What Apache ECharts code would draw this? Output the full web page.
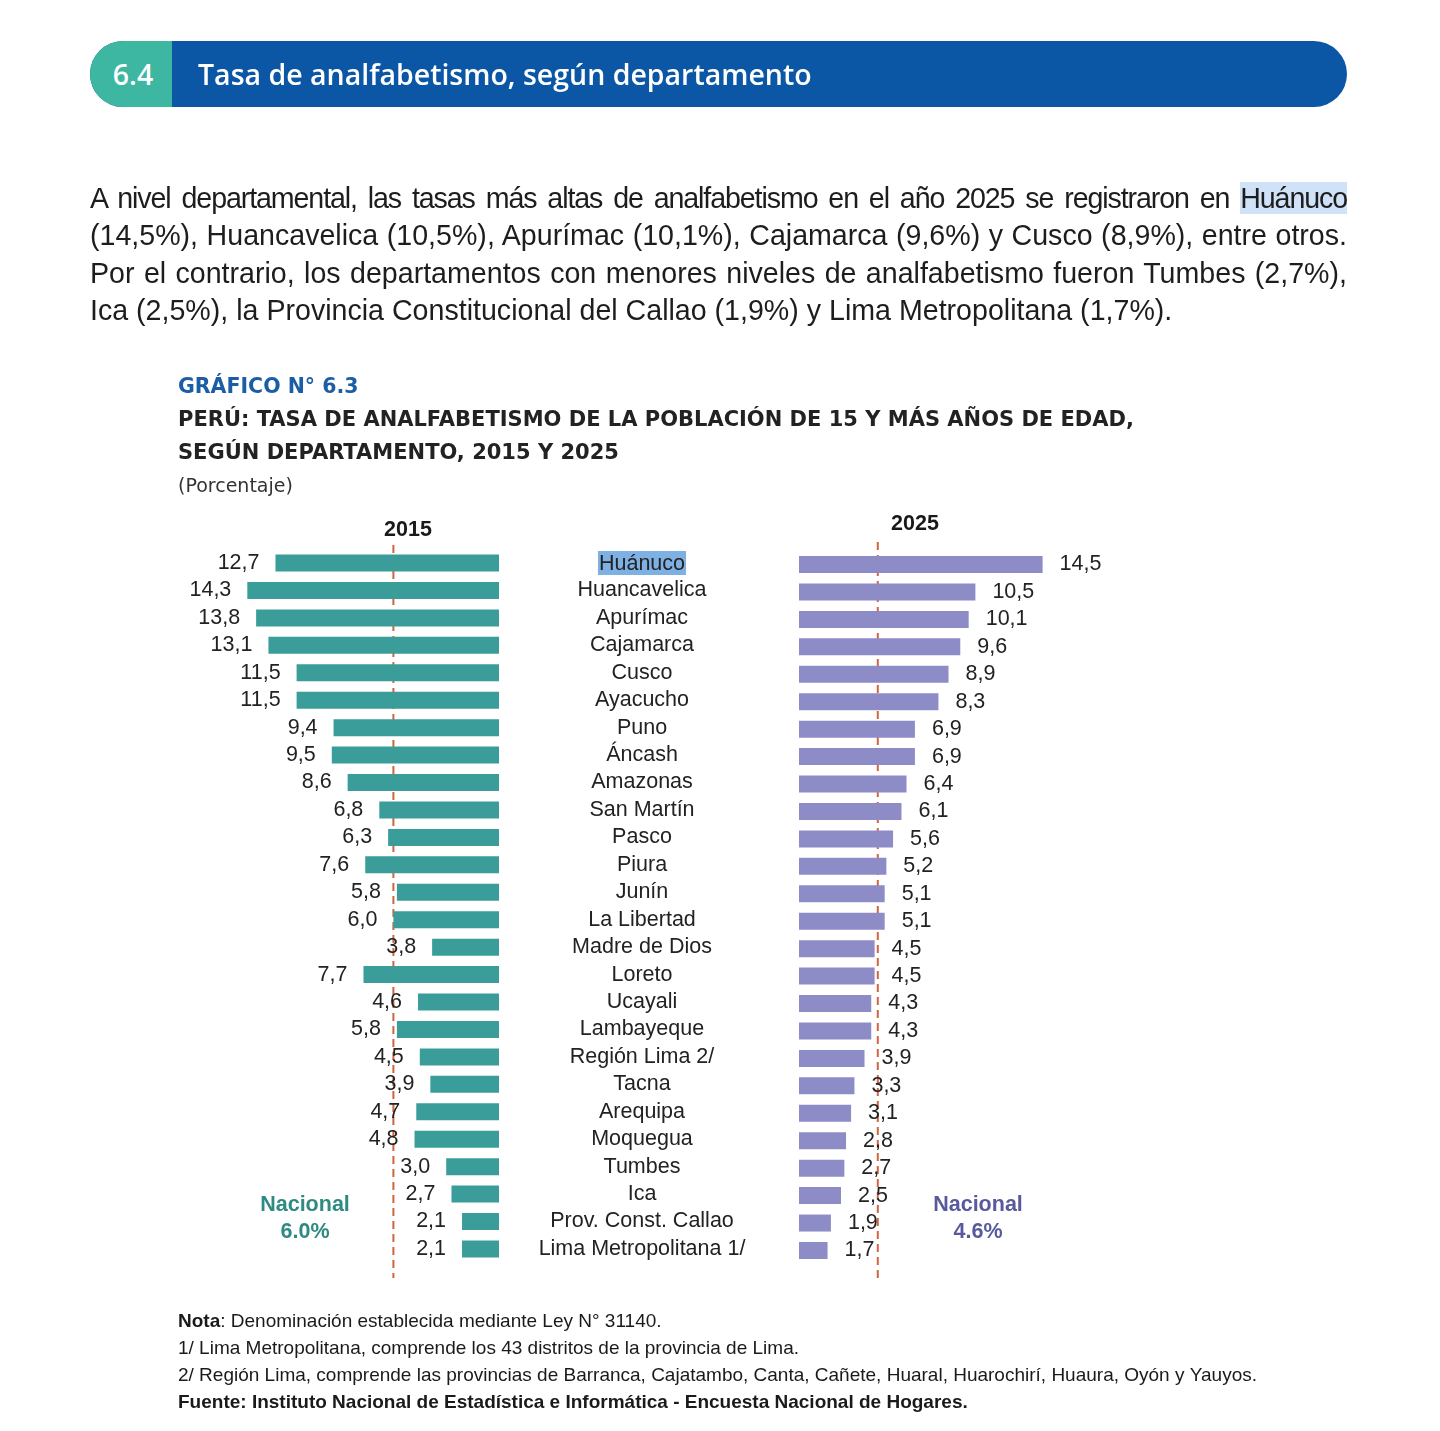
<!DOCTYPE html>
<html>
<head>
<meta charset="utf-8">
<title>Tasa de analfabetismo, según departamento</title>
<script src="https://cdn.jsdelivr.net/npm/echarts@6.0.0/dist/echarts.min.js"></script>
<style>
  html, body { margin: 0; padding: 0; background: #fff; }
  #chart { position: absolute; left: 0; top: 0; width: 1440px; height: 1431px; }
  .banner { position: absolute; left: 90px; top: 41px; width: 1257px; height: 66px;
    border-radius: 33px; background: #0B57A5; overflow: hidden;
    font-family: "Open Sans", sans-serif; font-weight: 600; color: #fff; }
  .banner .num { position: absolute; left: 0; top: 0; width: 82px; height: 66px; background: #3DB6A2;
    line-height: 66px; text-align: center; font-size: 28.5px; padding-left: 4px; box-sizing: border-box; }
  .banner .ttl { position: absolute; left: 108px; top: 0; line-height: 66px; font-size: 28.5px; }
  .par { position: absolute; left: 90px; top: 180px; width: 1257px;
    font-family: "Liberation Sans", Arial, sans-serif; font-size: 28.6px; color: #1d1d1d; }
  .ln { height: 37.3px; line-height: 37.3px; text-align: justify; text-align-last: justify; white-space: nowrap; }
  .ln.l1 { letter-spacing: -1.1px; word-spacing: -5px; }
  .ln.last { text-align-last: left; }
  .hl { background: #CFE2F8; }
</style>
</head>
<body>
<div id="chart"></div>
<div class="banner"><div class="num">6.4</div><div class="ttl">Tasa de analfabetismo, según departamento</div></div>
<div class="par">
  <div class="ln l1">A nivel departamental, las tasas más altas de analfabetismo en el año 2025 se registraron en <span class="hl">Huánuco</span></div>
  <div class="ln">(14,5%), Huancavelica (10,5%), Apurímac (10,1%), Cajamarca (9,6%) y Cusco (8,9%), entre otros.</div>
  <div class="ln">Por el contrario, los departamentos con menores niveles de analfabetismo fueron Tumbes (2,7%),</div>
  <div class="ln last">Ica (2,5%), la Provincia Constitucional del Callao (1,9%) y Lima Metropolitana (1,7%).</div>
</div>
<script>
var departamentos = ['Huánuco', 'Huancavelica', 'Apurímac', 'Cajamarca', 'Cusco', 'Ayacucho', 'Puno', 'Áncash',
  'Amazonas', 'San Martín', 'Pasco', 'Piura', 'Junín', 'La Libertad', 'Madre de Dios', 'Loreto', 'Ucayali',
  'Lambayeque', 'Región Lima 2/', 'Tacna', 'Arequipa', 'Moquegua', 'Tumbes', 'Ica', 'Prov. Const. Callao',
  'Lima Metropolitana 1/'];
var tasa2015 = [12.7, 14.3, 13.8, 13.1, 11.5, 11.5, 9.4, 9.5, 8.6, 6.8, 6.3, 7.6, 5.8, 6.0, 3.8, 7.7, 4.6, 5.8,
  4.5, 3.9, 4.7, 4.8, 3.0, 2.7, 2.1, 2.1];
var tasa2025 = [14.5, 10.5, 10.1, 9.6, 8.9, 8.3, 6.9, 6.9, 6.4, 6.1, 5.6, 5.2, 5.1, 5.1, 4.5, 4.5, 4.3, 4.3,
  3.9, 3.3, 3.1, 2.8, 2.7, 2.5, 1.9, 1.7];
var anios = ['2015', '2025'];
var nacional = [6.0, 4.6];
var notas = [
  '{b|Nota}{n|: Denominación establecida mediante Ley N° 31140.}',
  '{n|1/ Lima Metropolitana, comprende los 43 distritos de la provincia de Lima.}',
  '{n|2/ Región Lima, comprende las provincias de Barranca, Cajatambo, Canta, Cañete, Huaral, Huarochirí, Huaura, Oyón y Yauyos.}',
  '{b|Fuente: Instituto Nacional de Estadística e Informática - Encuesta Nacional de Hogares.}'
];

var FONT = '"Liberation Sans", Arial, sans-serif';
var TITLE_FONT = '"DejaVu Sans", sans-serif';

var fmt = function (p) {
  return p.value.toFixed(1).replace('.', ',');
};

var chart = echarts.init(document.getElementById('chart'));

chart.setOption({
  animation: false,
  textStyle: { fontFamily: FONT },
  grid: [
    { left: 217.4, width: 281.6, top: 549.3, height: 713.4 },
    { left: 799, width: 268.8, top: 550.8, height: 713.4 }
  ],
  xAxis: [
    { gridIndex: 0, type: 'value', min: 0, max: 16, inverse: true, show: false },
    { gridIndex: 1, type: 'value', min: 0, max: 16, show: false }
  ],
  yAxis: [
    {
      gridIndex: 0,
      type: 'category',
      data: departamentos,
      inverse: true,
      position: 'right',
      axisLine: { show: false },
      axisTick: { show: false },
      splitLine: { show: false },
      axisLabel: {
        interval: 0,
        margin: 143,
        align: 'center',
        fontSize: 21.5,
        fontFamily: FONT,
        color: '#222',
        formatter: function (v, i) {
          return i === 0 ? '{hl|' + v + '}' : v;
        },
        rich: {
          hl: { backgroundColor: '#7EB0E4', fontSize: 21.5, fontFamily: FONT, color: '#222', padding: [2, 1, 0, 1] }
        }
      }
    },
    { gridIndex: 1, type: 'category', data: departamentos, inverse: true, show: false }
  ],
  series: [
    {
      name: anios[0],
      type: 'bar',
      xAxisIndex: 0,
      yAxisIndex: 0,
      data: tasa2015,
      barWidth: 17,
      itemStyle: { color: '#3A9D99' },
      label: { show: true, position: 'left', distance: 16, formatter: fmt, fontSize: 21.5, fontFamily: FONT, color: '#222' }
    },
    {
      name: anios[1],
      type: 'bar',
      xAxisIndex: 1,
      yAxisIndex: 1,
      data: tasa2025,
      barWidth: 17,
      itemStyle: { color: '#8E8CC7' },
      label: { show: true, position: 'right', distance: 17, formatter: fmt, fontSize: 21.5, fontFamily: FONT, color: '#222' }
    }
  ]
});

// national reference lines, placed through the axes
var x15 = chart.convertToPixel({ xAxisIndex: 0 }, nacional[0]);
var x25 = chart.convertToPixel({ xAxisIndex: 1 }, nacional[1]) + 1.5;
var dash = { stroke: '#D0653E', lineWidth: 2, lineDash: [8, 5] };

function txt(text, x, y, size, weight, fill, align, family) {
  return {
    type: 'text', x: x, y: y, silent: true,
    style: {
      text: text, fill: fill, fontSize: size, fontWeight: weight, fontFamily: family || FONT,
      align: align || 'left', textAlign: align || 'left', verticalAlign: 'middle', textVerticalAlign: 'middle'
    }
  };
}

var graphics = [
  { type: 'line', silent: true, shape: { x1: x15, y1: 545, x2: x15, y2: 1278 }, style: dash },
  { type: 'line', silent: true, shape: { x1: x25, y1: 542, x2: x25, y2: 1278 }, style: dash },
  txt('GRÁFICO N° 6.3', 178, 388, 20.5, 'bold', '#1B5EA6', 'left', TITLE_FONT),
  txt('PERÚ: TASA DE ANALFABETISMO DE LA POBLACIÓN DE 15 Y MÁS AÑOS DE EDAD,', 178, 421, 21, 'bold', '#222', 'left', TITLE_FONT),
  txt('SEGÚN DEPARTAMENTO, 2015 Y 2025', 178, 454, 21, 'bold', '#222', 'left', TITLE_FONT),
  txt('(Porcentaje)', 178, 487, 19, 'normal', '#333', 'left', TITLE_FONT),
  txt(anios[0], 408, 530, 21.5, 'bold', '#1a1a1a', 'center'),
  txt(anios[1], 915, 524, 21.5, 'bold', '#1a1a1a', 'center'),
  txt('Nacional', 305, 1205, 21.5, 'bold', '#2E8A82', 'center'),
  txt(nacional[0].toFixed(1) + '%', 305, 1232, 21.5, 'bold', '#2E8A82', 'center'),
  txt('Nacional', 978, 1205, 21.5, 'bold', '#575A9C', 'center'),
  txt(nacional[1].toFixed(1) + '%', 978, 1232, 21.5, 'bold', '#575A9C', 'center')
];

notas.forEach(function (n, i) {
  graphics.push({
    type: 'text', x: 178, y: 1322 + i * 26.8, silent: true,
    style: {
      text: n, verticalAlign: 'middle', textVerticalAlign: 'middle',
      rich: {
        b: { fontSize: 19, fontFamily: FONT, fontWeight: 'bold', fill: '#1a1a1a', color: '#1a1a1a' },
        n: { fontSize: 19, fontFamily: FONT, fontWeight: 'normal', fill: '#1a1a1a', color: '#1a1a1a' }
      }
    }
  });
});

chart.setOption({ graphic: graphics });
</script>
</body>
</html>
